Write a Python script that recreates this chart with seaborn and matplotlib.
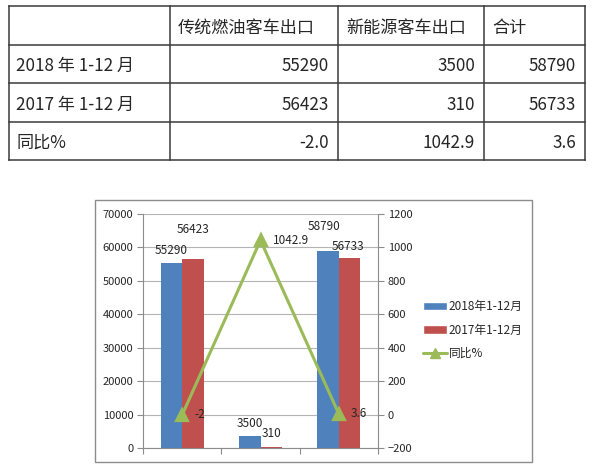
import matplotlib
matplotlib.use("Agg")
import matplotlib.pyplot as plt
from matplotlib.patches import Rectangle, Patch
from matplotlib.lines import Line2D
import pandas as pd
import seaborn as sns

# ---- data ----
categories = ["传统燃油客车出口", "新能源客车出口", "合计"]
periods = ["2018年1-12月", "2017年1-12月"]
row_labels = ["2018 年 1-12 月", "2017 年 1-12 月", "同比%"]
exports_2018 = [55290, 3500, 58790]
exports_2017 = [56423, 310, 56733]
yoy_pct = [-2.0, 1042.9, 3.6]
yoy_name = "同比%"
left_ticks = list(range(0, 70001, 10000))
right_ticks = list(range(-200, 1201, 200))

# ---- style ----
BLUE, RED, GREEN = "#4F81BD", "#C0504D", "#9BBB59"
GRID, AXIS, TEXT = "#b4b4b4", "#8c8c8c", "#262626"

sns.set_style("white")
plt.rcParams["font.family"] = ["Noto Sans CJK SC", "DejaVu Sans"]

W, H = 600, 470
fig = plt.figure(figsize=(W / 100, H / 100), dpi=100)
fig.patch.set_facecolor("white")


def fx(px):
    return px / W


def fy(py):
    return 1 - py / H


# ---- summary table (axes in pixel units) ----
col_edges = [9, 170, 338, 484, 585]
row_edges = [6, 45, 83, 122, 160]
tab = fig.add_axes([0, fy(170), 1, 170 / H])
tab.set_xlim(0, W)
tab.set_ylim(170, 0)
tab.axis("off")
tab.patch.set_visible(False)
line_kw = dict(color="#3a3a3a", lw=1.1, capstyle="projecting")
tab.hlines(row_edges, col_edges[0], col_edges[-1], **line_kw)
tab.vlines(col_edges, row_edges[0], row_edges[-1], **line_kw)


def row_mid(r):
    return (row_edges[r] + row_edges[r + 1]) / 2


tfont = dict(fontsize=12.3, color=TEXT, va="center_baseline")
for j, name in enumerate(categories):
    tab.text(col_edges[j + 1] + 8, row_mid(0), name, ha="left", **tfont)
for i, lab in enumerate(row_labels):
    tab.text(col_edges[0] + 7, row_mid(i + 1), lab, ha="left", **tfont)
table_rows = [[f"{v}" for v in exports_2018],
              [f"{v}" for v in exports_2017],
              [f"{v:.1f}" for v in yoy_pct]]
for i, vals in enumerate(table_rows):
    for j, s in enumerate(vals):
        tab.text(col_edges[j + 2] - 9, row_mid(i + 1), s, ha="right", **tfont)

# ---- chart ----
fig.add_artist(Rectangle((fx(95), fy(462)), fx(532) - fx(95), (462 - 200) / H,
                         transform=fig.transFigure, fill=False,
                         edgecolor=AXIS, lw=1))

ax = fig.add_axes([fx(143), fy(448), fx(378) - fx(143), (448 - 214) / H])
df = pd.DataFrame({
    "category": categories * 2,
    "period": [periods[0]] * len(categories) + [periods[1]] * len(categories),
    "exports": exports_2018 + exports_2017,
})
sns.barplot(data=df, x="category", y="exports", hue="period",
            order=categories, hue_order=periods, palette=[BLUE, RED],
            width=0.55, saturation=1, errorbar=None, legend=False,
            linewidth=0, edgecolor="none", ax=ax)

ax2 = ax.twinx()
sns.pointplot(x=categories, y=yoy_pct, order=categories, color=GREEN,
              markers="^", linestyles="-", markersize=8, linewidth=2.2,
              errorbar=None, ax=ax2)

ax.set_ylim(0, 70000)
ax.set_yticks(left_ticks)
ax2.set_ylim(-200, 1200)
ax2.set_yticks(right_ticks)
ax.set_xlim(-0.5, len(categories) - 0.5)
ax.set_xticks([k - 0.5 for k in range(len(categories) + 1)])
ax.set_xticklabels([])
for a in (ax, ax2):
    a.set_xlabel("")
    a.set_ylabel("")

ax.set_axisbelow(True)
ax.yaxis.grid(True, color=GRID, lw=0.8)
ax.xaxis.grid(False)
for side in ("top", "right"):
    ax.spines[side].set_visible(False)
for side in ("left", "bottom"):
    ax.spines[side].set_color(AXIS)
    ax.spines[side].set_linewidth(0.8)
for side in ("top", "left", "bottom"):
    ax2.spines[side].set_visible(False)
ax2.spines["right"].set_color(AXIS)
ax2.spines["right"].set_linewidth(0.8)

tick_kw = dict(direction="out", length=4, width=0.8, color=AXIS,
               labelsize=8, labelcolor=TEXT, pad=3)
ax.tick_params(axis="y", left=True, **tick_kw)
ax.tick_params(axis="x", bottom=True, **tick_kw)
ax2.tick_params(axis="y", right=True, **tick_kw)

# bar value labels (offsets in pixels from each bar top)
label_offsets = [[(0, 13), (0, 13), (-4, 25)],
                 [(0, 30), (0, 13), (-2, 12)]]
for cont, vals, offs in zip(ax.containers, [exports_2018, exports_2017], label_offsets):
    for bar, v, (dx, dy) in zip(cont, vals, offs):
        ax.annotate(f"{v}", xy=(bar.get_x() + bar.get_width() / 2, v),
                    xytext=(dx, dy), textcoords="offset pixels",
                    ha="center", va="center", fontsize=8.5, color=TEXT)

# growth-rate labels to the right of each marker
line_x = ax2.lines[0].get_xdata()
for xv, v in zip(line_x, yoy_pct):
    ax2.annotate(f"{v:g}", xy=(xv, v), xytext=(12, 0),
                 textcoords="offset pixels", ha="left", va="center",
                 fontsize=8.5, color=TEXT)

handles = [Patch(facecolor=BLUE), Patch(facecolor=RED),
           Line2D([], [], color=GREEN, lw=2.2, marker="^", markersize=7)]
fig.legend(handles, periods + [yoy_name], loc="center left",
           bbox_to_anchor=(fx(423), fy(330)), frameon=False, fontsize=8.5,
           handlelength=2.0, handleheight=0.7, handletextpad=0.2,
           labelspacing=0.9, borderpad=0, borderaxespad=0,
           labelcolor=TEXT)

fig.savefig("out.png", dpi=100, facecolor="white")
